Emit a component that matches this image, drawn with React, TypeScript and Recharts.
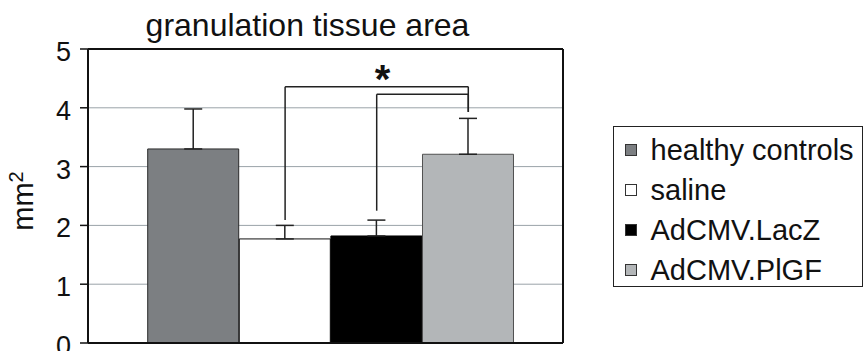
import React from 'react';
import {
  BarChart,
  Bar,
  XAxis,
  YAxis,
  CartesianGrid,
  ErrorBar,
  Cell,
  ReferenceLine,
  ReferenceDot,
  Legend,
} from 'recharts';

// ---- data ----
const groups = ['healthy controls', 'saline', 'AdCMV.LacZ', 'AdCMV.PlGF'];
const positions = [1, 2, 3, 4];
const means = [3.3, 1.77, 1.82, 3.21];
const errors = [0.68, 0.23, 0.27, 0.61];
const yTicks = [0, 1, 2, 3, 4, 5];
// significance brackets: from group position -> to group position
const bracketFrom = [2, 3];
const bracketTo = [4, 4];
const bracketStartY = [2.09, 2.25];
const bracketTopY = [4.36, 4.23];
const bracketEndY = [3.93, 3.93];
const starX = 3.063;
const starY = 4.64;

// ---- styles ----
const FONT = '"Liberation Sans", Arial, Helvetica, sans-serif';
const fills = ['#7c7f82', '#ffffff', '#000000', '#b3b6b8'];
const strokes = ['#2a2a2a', '#111111', '#000000', '#505050'];
const INK = '#111111';

const data = positions.map((x, i) => ({
  x,
  name: groups[i],
  mean: means[i],
  err: [0, errors[i]],
}));

const YTick = (props: any) => {
  const { x, y, payload } = props;
  return (
    <text
      x={x}
      y={y}
      dy={12}
      textAnchor="end"
      fontSize={27}
      fontFamily={FONT}
      fill={INK}
    >
      {payload.value}
    </text>
  );
};

const YLabel = (props: any) => {
  const vb = props.viewBox || { x: 0, y: 49, width: 88, height: 294 };
  const cx = vb.x + 33;
  const cy = vb.y + 152;
  return (
    <text
      x={cx}
      y={cy}
      transform={`rotate(-90, ${cx}, ${cy})`}
      textAnchor="middle"
      fontSize={29}
      fontFamily={FONT}
      fill={INK}
    >
      mm
      <tspan fontSize={20} dy={-10}>
        2
      </tspan>
    </text>
  );
};

const StarLabel = (props: any) => {
  const vb = props.viewBox || { x: 0, y: 0, width: 0, height: 0 };
  const cx = vb.x + (vb.width || 0) / 2;
  const cy = vb.y + (vb.height || 0) / 2;
  return (
    <text
      x={cx}
      y={cy}
      dy="0.56em"
      textAnchor="middle"
      fontSize={40}
      fontWeight="bold"
      fontFamily={FONT}
      fill={INK}
    >
      *
    </text>
  );
};

const LegendBox = () => (
  <div
    style={{
      boxSizing: 'border-box',
      width: 250,
      height: 161,
      border: '1.5px solid #222',
      paddingTop: 3,
      paddingLeft: 10.5,
      fontFamily: FONT,
      fontSize: 29,
      color: INK,
      background: '#fff',
    }}
  >
    {groups.map((g, i) => (
      <div
        key={g}
        style={{ display: 'flex', alignItems: 'center', height: 40, whiteSpace: 'nowrap' }}
      >
        <span
          style={{
            display: 'inline-block',
            boxSizing: 'border-box',
            width: 12,
            height: 12,
            border: '1px solid #333',
            background: fills[i],
            marginRight: 14,
            flex: 'none',
          }}
        />
        <span style={{ lineHeight: '40px' }}>{g}</span>
      </div>
    ))}
  </div>
);

export default function App() {
  return (
    <div
      style={{
        position: 'absolute',
        top: 0,
        left: 0,
        width: 863,
        height: 351,
        overflow: 'hidden',
        background: '#fff',
      }}
    >
      <div
        style={{
          position: 'absolute',
          left: 307.5,
          top: 9,
          transform: 'translateX(-50%)',
          fontFamily: FONT,
          fontSize: 32,
          lineHeight: '32px',
          color: INK,
          whiteSpace: 'nowrap',
          zIndex: 2,
        }}
      >
        granulation tissue area
      </div>
      <BarChart
        width={863}
        height={400}
        data={data}
        margin={{ top: 49, right: 300, bottom: 55, left: 0 }}
      >
        <CartesianGrid horizontal vertical={false} stroke="#9aa3a8" strokeWidth={1} />
        <XAxis
          type="number"
          dataKey="x"
          domain={[-0.152, 5.034]}
          allowDataOverflow
          tick={false}
          tickLine={false}
          axisLine={{ stroke: INK, strokeWidth: 2 }}
          height={2}
        />
        <YAxis
          type="number"
          domain={[0, 5]}
          ticks={yTicks}
          allowDataOverflow
          width={88}
          tickSize={8}
          tickMargin={9}
          tick={<YTick />}
          tickLine={{ stroke: INK, strokeWidth: 1.5 }}
          axisLine={{ stroke: INK, strokeWidth: 2 }}
          label={<YLabel />}
        />
        <Legend
          layout="vertical"
          align="center"
          verticalAlign="middle"
          width={250}
          height={161}
          wrapperStyle={{ left: 613, top: 126, width: 250, height: 161 }}
          content={<LegendBox />}
        />
        <Bar dataKey="mean" barSize={91} isAnimationActive={false}>
          {data.map((d, i) => (
            <Cell key={d.name} fill={fills[i]} stroke={strokes[i]} strokeWidth={1} />
          ))}
          <ErrorBar
            dataKey="err"
            direction="y"
            width={9}
            stroke="#222"
            strokeWidth={1.5}
            isAnimationActive={false}
          />
        </Bar>
        <ReferenceLine y={5} stroke={INK} strokeWidth={2} />
        <ReferenceLine x={5.034} stroke={INK} strokeWidth={2} />
        {bracketFrom.map((from, i) => (
          <ReferenceLine
            key={`a${i}`}
            segment={[
              { x: from, y: bracketStartY[i] },
              { x: from, y: bracketTopY[i] },
            ]}
            stroke="#222"
            strokeWidth={1.5}
          />
        ))}
        {bracketFrom.map((from, i) => (
          <ReferenceLine
            key={`b${i}`}
            segment={[
              { x: from, y: bracketTopY[i] },
              { x: bracketTo[i], y: bracketTopY[i] },
            ]}
            stroke="#222"
            strokeWidth={1.5}
          />
        ))}
        {bracketTo.map((to, i) => (
          <ReferenceLine
            key={`c${i}`}
            segment={[
              { x: to, y: bracketTopY[i] },
              { x: to, y: bracketEndY[i] },
            ]}
            stroke="#222"
            strokeWidth={1.5}
          />
        ))}
        <ReferenceDot x={starX} y={starY} r={0} stroke="none" fill="none" label={<StarLabel />} />
      </BarChart>
    </div>
  );
}
